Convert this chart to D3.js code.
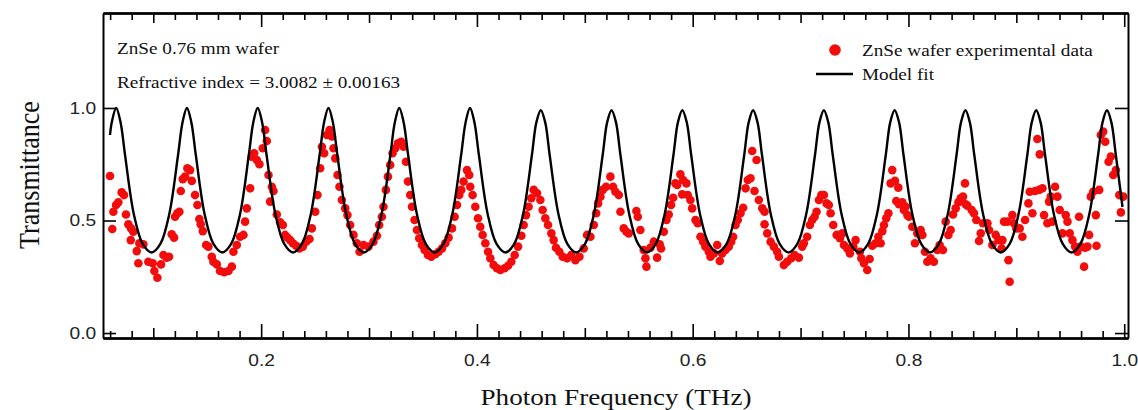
<!DOCTYPE html>
<html>
<head>
<meta charset="utf-8">
<script src="https://cdn.jsdelivr.net/npm/d3@7"></script>
<style>
  html, body { margin: 0; padding: 0; background: #fff; }
</style>
</head>
<body>
<div id="chart"></div>
<script>
// experimental transmittance points [frequency THz, transmittance]
const expData = [
  [0.0599,0.698],[0.0620,0.462],[0.0630,0.539],[0.0655,0.569],[0.0676,0.581],[0.0707,0.625],[0.0729,0.613],
  [0.0747,0.527],[0.0769,0.483],[0.0794,0.465],[0.0815,0.450],[0.0791,0.413],[0.0847,0.364],[0.0871,0.399],
  [0.0908,0.394],[0.0862,0.310],[0.0954,0.317],[0.0995,0.310],[0.1010,0.276],[0.1038,0.246],[0.1072,0.305],
  [0.1094,0.347],[0.1125,0.335],[0.1146,0.339],[0.1171,0.439],[0.1193,0.424],[0.1202,0.517],[0.1223,0.532],
  [0.1242,0.539],[0.1255,0.631],[0.1273,0.684],[0.1295,0.695],[0.1316,0.732],[0.1341,0.724],[0.1357,0.676],
  [0.1387,0.613],[0.1409,0.569],[0.1427,0.507],[0.1440,0.483],[0.1459,0.453],[0.1490,0.391],[0.1511,0.384],
  [0.1542,0.339],[0.1557,0.317],[0.1589,0.305],[0.1619,0.276],[0.1657,0.270],[0.1697,0.276],[0.1728,0.295],
  [0.1743,0.361],[0.1774,0.391],[0.1805,0.428],[0.1836,0.436],[0.1851,0.495],[0.1867,0.554],[0.1898,0.643],
  [0.1913,0.784],[0.1935,0.799],[0.1960,0.769],[0.1984,0.750],[0.2015,0.821],[0.2037,0.902],[0.2052,0.853],
  [0.2068,0.702],[0.2099,0.650],[0.2114,0.631],[0.2083,0.584],[0.2145,0.527],[0.2176,0.492],[0.2201,0.480],
  [0.2222,0.436],[0.2244,0.424],[0.2269,0.413],[0.2294,0.399],[0.2324,0.388],[0.2355,0.376],[0.2386,0.384],
  [0.2417,0.406],[0.2448,0.418],[0.2470,0.465],[0.2501,0.539],[0.2522,0.613],[0.2547,0.732],[0.2563,0.828],
  [0.2584,0.799],[0.2609,0.880],[0.2634,0.902],[0.2656,0.873],[0.2671,0.821],[0.2687,0.776],[0.2708,0.702],
  [0.2726,0.650],[0.2748,0.591],[0.2779,0.554],[0.2800,0.524],[0.2825,0.480],[0.2856,0.436],[0.2887,0.399],
  [0.2912,0.361],[0.2949,0.391],[0.2995,0.384],[0.3041,0.406],[0.3073,0.432],[0.3094,0.480],[0.3119,0.517],
  [0.3134,0.561],[0.3156,0.636],[0.3175,0.695],[0.3196,0.747],[0.3218,0.799],[0.3243,0.821],[0.3268,0.843],
  [0.3298,0.850],[0.3320,0.828],[0.3342,0.761],[0.3361,0.673],[0.3382,0.613],[0.3398,0.561],[0.3422,0.502],
  [0.3444,0.458],[0.3465,0.421],[0.3490,0.391],[0.3515,0.369],[0.3546,0.347],[0.3577,0.339],[0.3614,0.350],
  [0.3645,0.361],[0.3676,0.376],[0.3707,0.399],[0.3737,0.424],[0.3769,0.465],[0.3793,0.517],[0.3815,0.569],
  [0.3836,0.613],[0.3855,0.636],[0.3876,0.673],[0.3908,0.724],[0.3929,0.702],[0.3938,0.650],[0.3960,0.613],
  [0.3985,0.561],[0.4010,0.510],[0.4031,0.472],[0.4053,0.436],[0.4078,0.399],[0.4103,0.361],[0.4124,0.332],
  [0.4155,0.302],[0.4186,0.288],[0.4217,0.280],[0.4257,0.288],[0.4288,0.299],[0.4319,0.317],[0.4350,0.347],
  [0.4381,0.384],[0.4412,0.432],[0.4433,0.480],[0.4455,0.524],[0.4479,0.561],[0.4504,0.599],[0.4526,0.636],
  [0.4557,0.621],[0.4588,0.591],[0.4609,0.547],[0.4634,0.510],[0.4659,0.480],[0.4690,0.443],[0.4711,0.413],
  [0.4733,0.379],[0.4764,0.361],[0.4795,0.339],[0.4836,0.332],[0.4875,0.347],[0.4913,0.324],[0.4950,0.339],
  [0.4990,0.376],[0.5021,0.436],[0.5052,0.428],[0.5083,0.480],[0.5105,0.532],[0.5123,0.576],[0.5145,0.606],
  [0.5166,0.636],[0.5197,0.650],[0.5237,0.695],[0.5262,0.650],[0.5284,0.628],[0.5315,0.613],[0.5330,0.539],
  [0.5361,0.465],[0.5386,0.450],[0.5407,0.443],[0.5478,0.542],[0.5491,0.517],[0.5515,0.458],[0.5546,0.369],
  [0.5562,0.332],[0.5571,0.295],[0.5608,0.379],[0.5639,0.406],[0.5670,0.335],[0.5694,0.394],[0.5707,0.376],
  [0.5732,0.450],[0.5757,0.502],[0.5778,0.527],[0.5800,0.569],[0.5819,0.601],[0.5840,0.665],[0.5856,0.658],
  [0.5886,0.705],[0.5911,0.680],[0.5942,0.665],[0.5903,0.616],[0.5954,0.613],[0.5979,0.591],[0.5995,0.554],
  [0.6026,0.502],[0.6047,0.488],[0.6072,0.428],[0.6097,0.406],[0.6118,0.384],[0.6149,0.361],[0.6165,0.339],
  [0.6196,0.354],[0.6227,0.391],[0.6251,0.320],[0.6273,0.354],[0.6304,0.369],[0.6335,0.384],[0.6357,0.406],
  [0.6375,0.428],[0.6397,0.480],[0.6418,0.502],[0.6443,0.532],[0.6468,0.557],[0.6490,0.643],[0.6511,0.680],
  [0.6536,0.688],[0.6552,0.809],[0.6592,0.769],[0.6573,0.631],[0.6613,0.591],[0.6645,0.554],[0.6666,0.539],
  [0.6666,0.483],[0.6691,0.443],[0.6722,0.406],[0.6752,0.384],[0.6783,0.361],[0.6799,0.339],[0.6845,0.302],
  [0.6876,0.317],[0.6913,0.332],[0.6944,0.347],[0.6984,0.335],[0.7015,0.384],[0.7030,0.399],[0.7061,0.428],
  [0.7086,0.480],[0.7108,0.502],[0.7130,0.517],[0.7148,0.539],[0.7170,0.591],[0.7192,0.613],[0.7216,0.613],
  [0.7241,0.576],[0.7262,0.569],[0.7278,0.532],[0.7303,0.480],[0.7334,0.436],[0.7365,0.421],[0.7387,0.443],
  [0.7402,0.391],[0.7433,0.376],[0.7457,0.354],[0.7489,0.384],[0.7510,0.413],[0.7550,0.361],[0.7563,0.332],
  [0.7587,0.310],[0.7618,0.280],[0.7640,0.329],[0.7665,0.388],[0.7696,0.399],[0.7721,0.428],[0.7742,0.399],
  [0.7758,0.453],[0.7773,0.480],[0.7794,0.510],[0.7814,0.532],[0.7835,0.665],[0.7850,0.724],[0.7875,0.676],
  [0.7906,0.646],[0.7887,0.587],[0.7912,0.572],[0.7943,0.581],[0.7958,0.547],[0.7974,0.561],[0.7990,0.524],
  [0.8005,0.517],[0.8036,0.472],[0.8060,0.399],[0.8082,0.443],[0.8113,0.458],[0.8129,0.436],[0.8153,0.361],
  [0.8175,0.317],[0.8205,0.332],[0.8236,0.317],[0.8268,0.369],[0.8289,0.391],[0.8320,0.369],[0.8345,0.495],
  [0.8370,0.436],[0.8391,0.458],[0.8413,0.527],[0.8438,0.554],[0.8463,0.581],[0.8484,0.599],[0.8505,0.606],
  [0.8524,0.665],[0.8530,0.572],[0.8546,0.566],[0.8586,0.547],[0.8607,0.532],[0.8629,0.502],[0.8654,0.409],
  [0.8670,0.443],[0.8691,0.488],[0.8732,0.488],[0.8747,0.458],[0.8778,0.391],[0.8809,0.436],[0.8834,0.413],
  [0.8864,0.376],[0.8871,0.413],[0.8886,0.495],[0.8927,0.324],[0.8917,0.495],[0.8938,0.228],[0.8963,0.524],
  [0.8978,0.488],[0.9000,0.465],[0.9031,0.465],[0.9056,0.428],[0.9081,0.502],[0.9112,0.576],[0.9124,0.628],
  [0.9149,0.532],[0.9173,0.631],[0.9195,0.862],[0.9217,0.794],[0.9210,0.636],[0.9242,0.643],[0.9257,0.524],
  [0.9288,0.488],[0.9303,0.584],[0.9319,0.606],[0.9334,0.495],[0.9359,0.650],[0.9381,0.606],[0.9402,0.547],
  [0.9427,0.443],[0.9458,0.524],[0.9474,0.495],[0.9495,0.443],[0.9520,0.413],[0.9545,0.384],[0.9566,0.361],
  [0.9581,0.517],[0.9597,0.384],[0.9628,0.295],[0.9637,0.379],[0.9659,0.384],[0.9675,0.436],[0.9690,0.606],
  [0.9712,0.628],[0.9737,0.524],[0.9743,0.388],[0.9768,0.636],[0.9783,0.880],[0.9805,0.895],[0.9824,0.850],
  [0.9855,0.761],[0.9876,0.784],[0.9898,0.702],[0.9923,0.724],[0.9954,0.613],[0.9969,0.536],[0.9991,0.606]
];

// model fit curve [frequency THz, transmittance]
const fitData = [
  [0.0599,0.880],[0.0615,0.936],[0.0656,1.000],[0.0697,0.936],[0.0738,0.792],[0.0820,0.528],[0.0902,0.396],[0.0984,0.358],
  [0.1066,0.396],[0.1148,0.528],[0.1230,0.792],[0.1271,0.936],[0.1312,1.000],[0.1353,0.936],[0.1394,0.792],[0.1476,0.528],[0.1558,0.396],[0.1640,0.358],
  [0.1722,0.396],[0.1804,0.528],[0.1886,0.792],[0.1927,0.936],[0.1968,1.000],[0.2009,0.936],[0.2050,0.792],[0.2132,0.528],[0.2214,0.396],[0.2296,0.358],
  [0.2378,0.396],[0.2460,0.528],[0.2542,0.792],[0.2583,0.936],[0.2624,1.000],[0.2665,0.936],[0.2706,0.792],[0.2788,0.528],[0.2870,0.396],[0.2952,0.358],
  [0.3034,0.396],[0.3116,0.528],[0.3198,0.792],[0.3239,0.936],[0.3280,1.000],[0.3321,0.936],[0.3362,0.792],[0.3444,0.528],[0.3526,0.396],[0.3608,0.358],
  [0.3690,0.396],[0.3772,0.528],[0.3854,0.792],[0.3895,0.936],[0.3936,1.000],[0.3977,0.936],[0.4018,0.792],[0.4100,0.528],[0.4182,0.396],[0.4264,0.358],
  [0.4346,0.396],[0.4428,0.528],[0.4510,0.792],[0.4551,0.936],[0.4592,0.990],[0.4633,0.936],[0.4674,0.792],[0.4756,0.528],[0.4838,0.396],[0.4920,0.358],
  [0.5002,0.396],[0.5084,0.528],[0.5166,0.792],[0.5207,0.936],[0.5248,0.990],[0.5289,0.936],[0.5330,0.792],[0.5412,0.528],[0.5494,0.396],[0.5576,0.358],
  [0.5658,0.396],[0.5740,0.528],[0.5822,0.792],[0.5863,0.936],[0.5904,0.990],[0.5945,0.936],[0.5986,0.792],[0.6068,0.528],[0.6150,0.396],[0.6232,0.358],
  [0.6314,0.396],[0.6396,0.528],[0.6478,0.792],[0.6519,0.936],[0.6560,0.990],[0.6601,0.936],[0.6642,0.792],[0.6724,0.528],[0.6806,0.396],[0.6888,0.358],
  [0.6970,0.396],[0.7052,0.528],[0.7134,0.792],[0.7175,0.936],[0.7216,0.990],[0.7257,0.936],[0.7298,0.792],[0.7380,0.528],[0.7462,0.396],[0.7544,0.358],
  [0.7626,0.396],[0.7708,0.528],[0.7790,0.792],[0.7831,0.936],[0.7872,0.990],[0.7913,0.936],[0.7954,0.792],[0.8036,0.528],[0.8118,0.396],[0.8200,0.358],
  [0.8282,0.396],[0.8364,0.528],[0.8446,0.792],[0.8487,0.936],[0.8528,0.990],[0.8569,0.936],[0.8610,0.792],[0.8692,0.528],[0.8774,0.396],[0.8856,0.358],
  [0.8938,0.396],[0.9020,0.528],[0.9102,0.792],[0.9143,0.936],[0.9184,0.990],[0.9225,0.936],[0.9266,0.792],[0.9348,0.528],[0.9430,0.396],[0.9512,0.358],
  [0.9594,0.396],[0.9676,0.528],[0.9758,0.792],[0.9799,0.936],[0.9840,0.990],[0.9881,0.936],[0.9922,0.792],[0.9984,0.560]
];

const xMajorTicks = [0.2, 0.4, 0.6, 0.8, 1.0];
const xMidTicks = [0.1, 0.3, 0.5, 0.7, 0.9];
const xMinorTicks = [0.06, 0.08, 0.12, 0.14, 0.16, 0.18, 0.22, 0.24, 0.26, 0.28, 0.32, 0.34, 0.36, 0.38,
  0.42, 0.44, 0.46, 0.48, 0.52, 0.54, 0.56, 0.58, 0.62, 0.64, 0.66, 0.68, 0.72, 0.74, 0.76, 0.78,
  0.82, 0.84, 0.86, 0.88, 0.92, 0.94, 0.96, 0.98];
const yTicks = [0.0, 0.5, 1.0];

const annotations = ['ZnSe 0.76 mm wafer', 'Refractive index = 3.0082 \u00b1 0.00163'];
const legendLabels = ['ZnSe wafer experimental data', 'Model fit'];

const width = 1138, height = 410;
const plotLeft = 103, plotRight = 1128, plotTop = 13, plotBottom = 338;
const stretch = 1.13; // text in the original is a little wider than its height suggests
const serif = '"Liberation Serif", "Times New Roman", serif';
const sans = '"Liberation Sans", Arial, sans-serif';
const red = '#f20c0c';

const svg = d3.select('#chart').append('svg')
  .attr('width', width)
  .attr('height', height)
  .attr('viewBox', [0, 0, width, height]);

const x = d3.scaleLinear().domain([0.0534, 1.0035]).range([plotLeft, plotRight]);
const y = d3.scaleLinear().domain([-0.022, 1.422]).range([plotBottom, plotTop]);

// data
svg.append('g')
  .selectAll('circle')
  .data(expData)
  .join('circle')
  .attr('cx', d => x(d[0]))
  .attr('cy', d => y(d[1]))
  .attr('r', 4.3)
  .attr('fill', red);

const line = d3.line()
  .x(d => x(d[0]))
  .y(d => y(d[1]))
  .curve(d3.curveCatmullRom.alpha(0.5));

svg.append('path')
  .datum(fitData)
  .attr('fill', 'none')
  .attr('stroke', '#000')
  .attr('stroke-width', 2.4)
  .attr('stroke-linejoin', 'round')
  .attr('d', line);

// axes with inward ticks on all four sides
function styleAxis(g) {
  g.select('.domain').attr('stroke', '#000').attr('stroke-width', 2);
  g.selectAll('.tick line').attr('stroke', '#000').attr('stroke-width', 1.6);
}

function xAxisSet(axisFn, yPos, labels) {
  const sizes = [[xMinorTicks, 7], [xMidTicks, 10], [xMajorTicks, 14]];
  sizes.forEach(([vals, len], i) => {
    const ax = axisFn(x).tickValues(vals).tickSizeInner(-len).tickSizeOuter(0)
      .tickPadding(16);
    if (labels && i === 2) ax.tickFormat(d3.format('.1f'));
    else ax.tickFormat('');
    const g = svg.append('g').attr('transform', `translate(0,${yPos})`).call(ax);
    styleAxis(g);
    g.selectAll('text')
      .attr('font-family', sans)
      .attr('font-size', 17)
      .attr('fill', '#222')
      .attr('transform', `scale(${stretch},1)`);
  });
}
xAxisSet(d3.axisBottom, plotBottom, true);
xAxisSet(d3.axisTop, plotTop, false);

const gl = svg.append('g').attr('transform', `translate(${plotLeft},0)`)
  .call(d3.axisLeft(y).tickValues(yTicks).tickSizeInner(-13).tickSizeOuter(0)
    .tickPadding(6).tickFormat(d3.format('.1f')));
styleAxis(gl);
gl.selectAll('text')
  .attr('font-family', sans)
  .attr('font-size', 17)
  .attr('fill', '#222')
  .attr('transform', `scale(${stretch},1)`);

const gr = svg.append('g').attr('transform', `translate(${plotRight},0)`)
  .call(d3.axisRight(y).tickValues(yTicks).tickSizeInner(-13).tickSizeOuter(0).tickFormat(''));
styleAxis(gr);

// text helper, with the horizontal stretch of the original
function addText(px, py, str, size, family, anchor, rotate) {
  const rot = rotate ? ` rotate(${rotate})` : '';
  const sc = rotate ? `scale(1,${stretch})` : `scale(${stretch},1)`;
  svg.append('text')
    .attr('transform', `translate(${px},${py})${rot} ${sc}`)
    .attr('text-anchor', anchor || 'start')
    .attr('font-family', family)
    .attr('font-size', size)
    .attr('fill', '#111')
    .text(str);
}

addText(616, 405, 'Photon Frequency (THz)', 24, serif, 'middle');
addText(39, 175, 'Transmittance', 26, serif, 'middle', -90);

addText(117, 54, annotations[0], 17, serif);
addText(117, 88, annotations[1], 17, serif);

// legend
svg.append('circle').attr('cx', 835).attr('cy', 50).attr('r', 5.8).attr('fill', red);
addText(862, 56, legendLabels[0], 17, serif);
svg.append('line').attr('x1', 816).attr('x2', 853).attr('y1', 74).attr('y2', 74)
  .attr('stroke', '#000').attr('stroke-width', 2.4);
addText(862, 80, legendLabels[1], 17, serif);
</script>
</body>
</html>
